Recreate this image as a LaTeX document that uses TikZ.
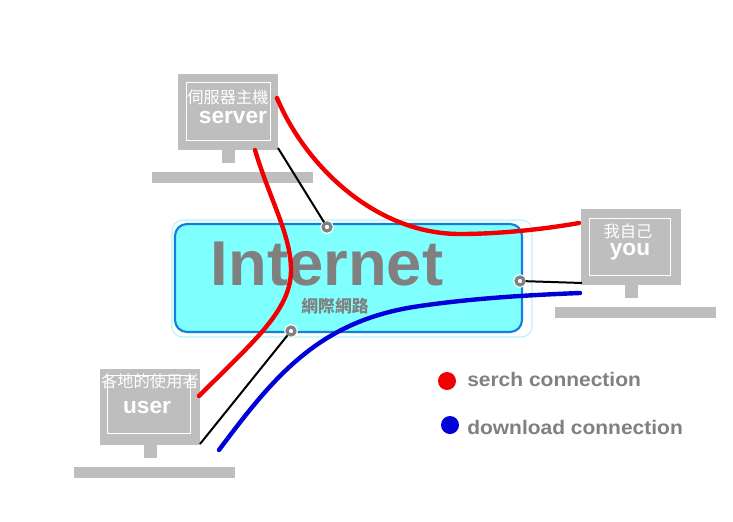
\documentclass[tikz,border=0pt]{standalone}
\usepackage{fontspec}
\setmainfont{Liberation Sans}
\newfontfamily\cjk{Noto Sans CJK TC}
\newfontfamily\widelatin[FakeStretch=1.07]{Liberation Sans}
\definecolor{scr}{HTML}{BEBEBE}
\definecolor{gtx}{HTML}{808080}
\definecolor{cy}{HTML}{80FFFF}
\definecolor{cyb}{HTML}{0F80DC}
\definecolor{cyl}{HTML}{B8F4F8}
\definecolor{rd}{HTML}{F00000}
\definecolor{bl}{HTML}{0000D8}
\tikzset{
 x=0.75pt,y=-0.75pt,
 cjk white/.style={text=white,font=\cjk\fontsize{12.2}{12}\selectfont,inner sep=0},
 latin white/.style={text=white,font=\bfseries\fontsize{17}{17}\selectfont,inner sep=0},
 hub/.style={circle,draw=gtx,fill=white,line width=2.4pt,minimum size=6pt,inner sep=0,preaction={draw=white,line width=4.2pt}},
 red link/.style={draw=rd,line width=3.3pt,line cap=round},
 blue link/.style={draw=bl,line width=3.3pt,line cap=round},
 black link/.style={draw=black,line width=1.5pt},
 legend label/.style={text=gtx,font=\widelatin\bfseries\fontsize{14.7}{15}\selectfont,anchor=west,inner sep=0},
 legend dot/.style={circle,minimum size=13.5pt,inner sep=0}
}
\newcommand{\monitor}[7]{% name, left, top, inner l, inner t, inner r, inner b
 \fill[scr] (#2,#3) rectangle ++(100,76);
 \fill[scr] (#2+44,#3+76) rectangle ++(13,13);
 \fill[scr] (#2-26,#3+98) rectangle ++(161,11);
 \draw[white,line width=0.75pt] (#4,#5) rectangle (#6,#7);
 \coordinate (#1) at (#2+50,#3+38);
}
\begin{document}
\begin{tikzpicture}
\useasboundingbox (0,0) rectangle (733,522);
\fill[white] (0,0) rectangle (733,522);
% Internet box
\draw[cyl,line width=0.8pt,rounded corners=8pt] (172,220) rectangle (532,337);
\draw[cyb,fill=cy,line width=1.6pt,rounded corners=9pt] (175,224) rectangle (522,332);
\node[text=gtx,font=\bfseries\fontsize{47.5}{47}\selectfont,inner sep=0] (inet) at (327,264) {Internet};
\node[text=gtx,font=\cjk\bfseries\fontsize{12.6}{13}\selectfont,inner sep=0] (inetzh) at (335,306) {網際網路};
% Monitors
\monitor{srv}{178}{74}{186}{82}{270}{140}
\monitor{you}{581}{209}{589}{218}{670}{275}
\monitor{usr}{100}{369}{107}{375}{190}{433}
\node[cjk white] (srvzh) at (228,97) {伺服器主機};
\node[latin white] (srven) at (233,118) {server};
\node[cjk white] (youzh) at (628,231) {我自己};
\node[latin white] (youen) at (630,252) {you};
\node[cjk white] (usrzh) at (150,381) {各地的使用者};
\node[latin white] (usren) at (147,408) {user};
% Anchors
\coordinate (srvA) at (277,98);
\coordinate (srvB) at (255,150);
\coordinate (srvC) at (278,148);
\coordinate (youA) at (579,223);
\coordinate (youB) at (582,283);
\coordinate (youC) at (580,293);
\coordinate (usrA) at (199,396);
\coordinate (usrB) at (200,444);
\coordinate (usrC) at (219,450);
% Hubs
\node[hub] (h1) at (327,227) {};
\node[hub] (h2) at (520,281) {};
\node[hub] (h3) at (291,331) {};
% Links
\draw[black link] (srvC) -- (h1);
\draw[black link] (youB) -- (h2);
\draw[black link] (usrB) -- (h3);
\draw[red link] (srvA) .. controls (305,165) and (375,234) .. (460,234) .. controls (500,234) and (545,229) .. (youA);
\draw[red link] (srvB) .. controls (270,200) and (291,235) .. (291,270) .. controls (291,310) and (255,340) .. (usrA);
\draw[blue link] (usrC) .. controls (275,375) and (320,320) .. (420,306) .. controls (475,298) and (530,295) .. (youC);
% Legend
\node[legend dot,fill=rd] (ldr) at (447,381) {};
\node[legend dot,fill=bl] (ldb) at (450,425) {};
\node[legend label] (lt1) at (467,379) {serch connection};
\node[legend label] (lt2) at (467,427) {download connection};
\end{tikzpicture}
\end{document}
